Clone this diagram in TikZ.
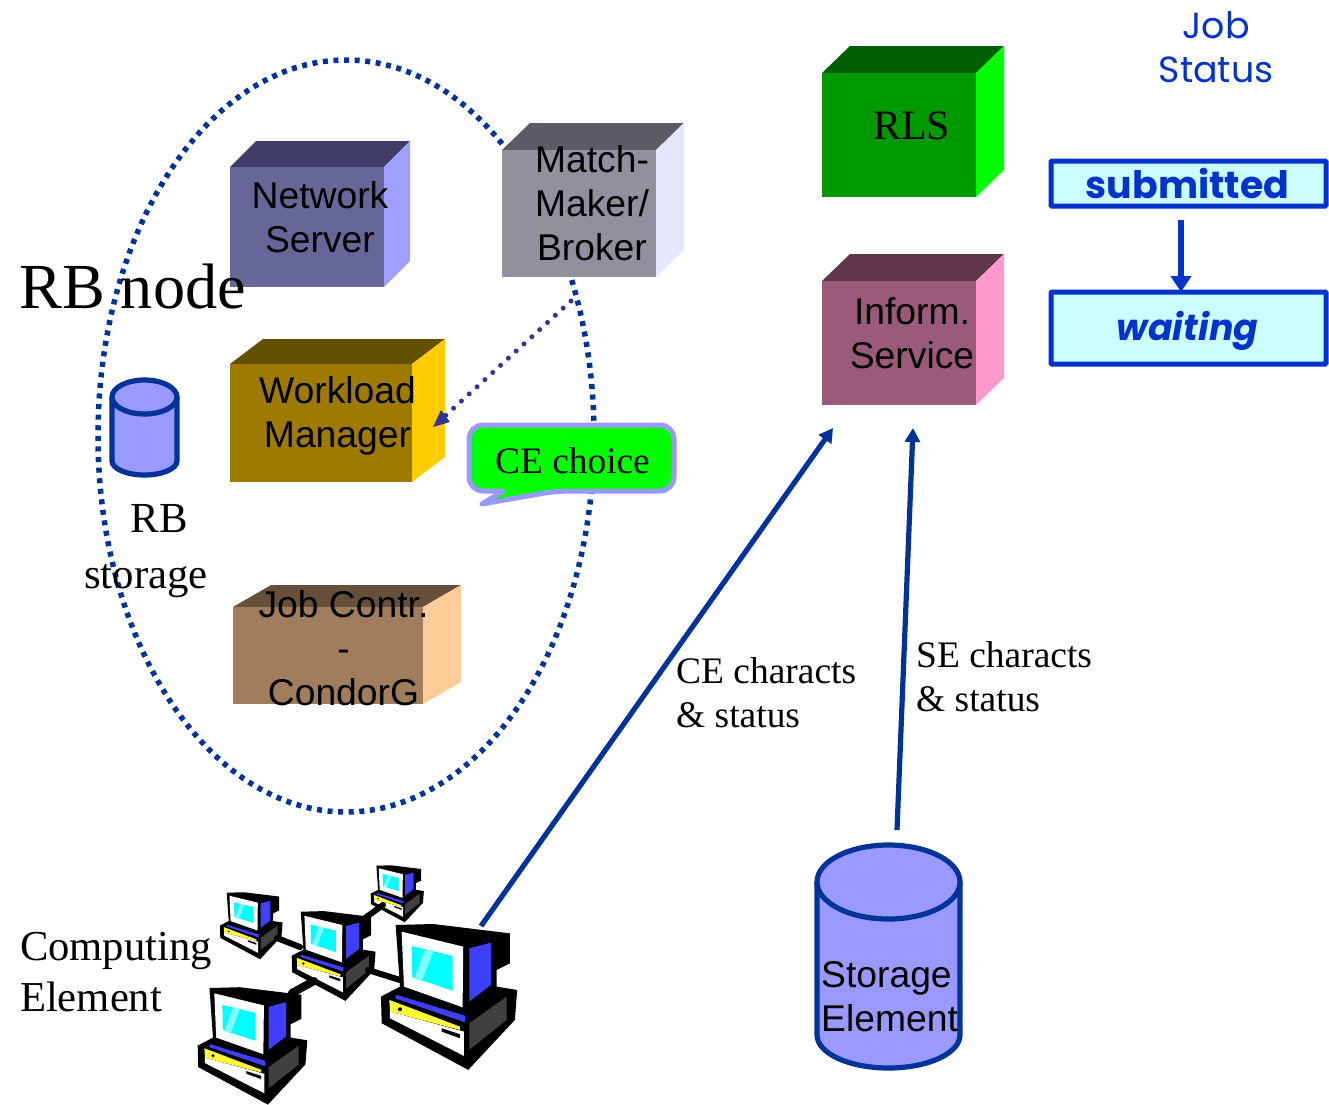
\documentclass[tikz,border=0pt]{standalone}
\usepackage{fontspec}
\setmainfont{Liberation Serif}
\newfontfamily\arialfont{Liberation Sans}
\newfontfamily\comicfont{Poppins}
\usetikzlibrary{arrows.meta}
\definecolor{navy}{HTML}{003399}
\definecolor{royal}{HTML}{0033CC}
\definecolor{periw}{HTML}{9999FF}
\definecolor{dotblue}{HTML}{333399}
\definecolor{pale}{HTML}{CCFFFF}
\definecolor{scr}{HTML}{00FFFF}
\definecolor{scrl}{HTML}{80FFFF}
\definecolor{cblue}{HTML}{3F3FFF}
\definecolor{cyel}{HTML}{FFFF33}
\definecolor{cgrey}{HTML}{404040}
\definecolor{nsf}{HTML}{666699}\definecolor{nst}{HTML}{3D3D66}\definecolor{nss}{HTML}{9F9FFF}
\definecolor{mmf}{HTML}{91919E}\definecolor{mmt}{HTML}{5C5C66}\definecolor{mms}{HTML}{E6E6FF}
\definecolor{wmf}{HTML}{9E7B00}\definecolor{wmt}{HTML}{635000}\definecolor{wms}{HTML}{FFCC00}
\definecolor{jcf}{HTML}{A07D5C}\definecolor{jct}{HTML}{66503C}\definecolor{jcs}{HTML}{FFCC99}
\definecolor{rlf}{HTML}{009900}\definecolor{rlt}{HTML}{006000}\definecolor{rls}{HTML}{00FF00}
\definecolor{isf}{HTML}{9A5A7A}\definecolor{ist}{HTML}{5E3648}\definecolor{iss}{HTML}{FF99CC}
\tikzset{
  x=1bp,y=-1bp,
  front/.style={inner sep=0pt,outer sep=0pt,anchor=north west},
  sanslabel/.style={inner sep=0pt,align=center,font=\arialfont\fontsize{37.4}{44}\selectfont},
  seriflabel/.style={inner sep=0pt,align=left,font=\fontsize{37.6}{44}\selectfont},
  biglabel/.style={inner sep=0pt,align=left,font=\fontsize{42.8}{51}\selectfont},
  statusbox/.style={draw=royal,line width=5bp,fill=pale,inner sep=0pt,outer sep=0pt,rounded corners=1bp,anchor=north west},
  flow/.style={draw=navy,line width=5.2bp,-{Triangle[length=14bp,width=15bp]}},
  link/.style={draw=black,line width=6bp,line cap=round},
  cyl/.style={fill=periw,draw=navy,line width=5.2bp},
  computer/.pic={
    \fill[black] (44,0) -- (157,-3) -- (387,25) -- (387,115) -- (347,135) -- (347,185) -- (409,195) -- (402,285) -- (262,435) -- (2,295) -- (0,215) -- (57,185) -- cycle;
    \fill[white] (62,20) -- (247,65) -- (245,247) -- (69,185) -- cycle;
    \fill[scr] (92,63) -- (215,93) -- (215,197) -- (94,157) -- cycle;
    \fill[scrl] (132,73) -- (157,80) -- (122,170) -- (100,160) -- cycle;
    \fill[cblue] (265,70) -- (330,53) -- (330,180) -- (265,230) -- cycle;
    \fill[white] (27,260) -- (249,320) -- (249,393) -- (27,280) -- cycle;
    \fill[cyel] (25,225) -- (237,305) -- (237,315) -- (27,260) -- cycle;
    \fill[cblue] (47,210) -- (252,272) -- (252,292) -- (42,220) -- cycle;
    \fill[cgrey] (265,295) -- (377,215) -- (377,285) -- (265,375) -- cycle;
    \fill[black] (57,253) circle (6);
    \fill[black] (182,310) -- (237,328) -- (237,340) -- (182,320) -- cycle;
  }
}
% name, x0, y0, x1, y1, dx, dy, colour prefix
\newcommand{\cubebox}[8]{%
  \fill[#8t] (#2,#3) -- (#2+#6,#3-#7) -- (#4+#6,#3-#7) -- (#4,#3) -- cycle;
  \fill[#8s] (#4,#3) -- (#4+#6,#3-#7) -- (#4+#6,#5-#7) -- (#4,#5) -- cycle;
  \node[front,fill=#8f,minimum width=#4bp-#2bp,minimum height=#5bp-#3bp] (#1) at (#2,#3) {};
}
\begin{document}
\begin{tikzpicture}
\useasboundingbox (0,0) rectangle (1329,1104);
% RB node boundary
\draw[navy,line width=5.5bp,dash pattern=on 5bp off 5.6bp] (346,436) ellipse [x radius=248,y radius=376];
% cubes
\cubebox{ns}{230}{167}{384}{287}{26}{26}{ns}
\cubebox{mm}{502}{150}{656}{277}{28}{27}{mm}
\cubebox{wm}{230}{364}{412}{482}{33}{25}{wm}
\cubebox{jc}{233}{607}{423}{704}{38}{22}{jc}
\cubebox{rl}{822}{73}{976}{197}{28}{27}{rl}
\cubebox{is}{822}{281}{976}{405}{28}{27}{is}
\node[sanslabel] (nsl) at (320,217) {Network\\Server};
\node[sanslabel] (mml) at (592,203) {Match-\\Maker/\\Broker};
\node[sanslabel] (wml) at (337.5,416) {Workload\\Manager};
\node[sanslabel] (jcl) at (343.5,648) {Job Contr.\\-\\CondorG};
\node[sanslabel] (isl) at (912,333) {Inform.\\Service};
\node[inner sep=0pt,font=\fontsize{42}{50}\selectfont] (rll) at (911.5,126) {RLS};
\node[inner sep=0pt,font=\fontsize{64.5}{70}\selectfont] (rbn) at (132.5,287) {RB node};
% CE choice bubble
\draw[periw,line width=5bp,line join=round,fill=green,rounded corners=14bp] (469,425) -- (674,425) -- (674,491) -- (556,491) [sharp corners] -- (482,504) -- (503,491) [rounded corners=14bp] -- (469,491) -- cycle;
\node[inner sep=0pt,font=\fontsize{37.5}{44}\selectfont] (cec) at (572.5,461) {CE choice};
% dotted arrow
\coordinate (dots) at (571,301);
\coordinate (dote) at (433,427);
\draw[dotblue,line width=5bp,dash pattern=on 0bp off 10.6bp,line cap=round] (dots) -- (dote);
\fill[dotblue] (433,427) -- (441,410) -- (450,422) -- cycle;
% RB storage
\path[cyl] (112,397) -- (112,461) arc[start angle=180,end angle=360,x radius=32.5,y radius=-14] -- (177,397);
\path[cyl] (144.5,397) ellipse [x radius=32.5,y radius=17];
\node[seriflabel,align=center,font=\fontsize{43}{57}\selectfont] (rbs) at (146,551) {\hspace*{27bp}RB\\storage};
% Storage element
\path[cyl] (817,882) -- (817,1035) arc[start angle=180,end angle=360,x radius=71.5,y radius=-33] -- (960,882);
\path[cyl] (888.5,882) ellipse [x radius=71.5,y radius=37];
\node[sanslabel,align=left,anchor=west] (sel) at (821,997) {Storage\\Element};
% computers
\pic[shift={(381,925)},scale=0.333] {computer};
\pic[shift={(197.7,988)},scale=0.268] {computer};
\pic[shift={(291.7,911.7)},scale=0.205] {computer};
\pic[shift={(220,892.7)},scale=0.153] {computer};
\pic[shift={(370.7,865.7)},scale=0.13] {computer};
\coordinate (l1a) at (277,938); \coordinate (l1b) at (300,947);
\coordinate (l2a) at (365,918); \coordinate (l2b) at (383,905);
\coordinate (l3a) at (292,993); \coordinate (l3b) at (314,981);
\coordinate (l4a) at (368,970); \coordinate (l4b) at (400,980);
\draw[link] (l1a) -- (l1b);
\draw[link] (l2a) -- (l2b);
\draw[link,line width=8bp] (l3a) -- (l3b);
\draw[link] (l4a) -- (l4b);
\node[biglabel] (cel) at (116,972) {Computing\\Element};
% flows
\coordinate (cea) at (481,926); \coordinate (ceb) at (833,428);
\coordinate (sea) at (897,830); \coordinate (seb) at (913,428);
\draw[flow] (cea) -- (ceb);
\draw[flow] (sea) -- (seb);
\node[seriflabel,anchor=west] (cet) at (676,693) {CE characts\\\&\ status};
\node[seriflabel,anchor=west] (set) at (916,677) {SE characts\\\&\ status};
% job status
\node[inner sep=0pt,align=center,text=royal,font=\comicfont\fontsize{36.5}{44}\selectfont] (jst) at (1216,47) {Job\\Status};
\node[statusbox,minimum width=275bp,minimum height=45bp] (sub) at (1051,161) {};
\node[inner sep=0pt,font=\comicfont\bfseries\fontsize{38}{40}\selectfont,text=royal] (subl) at (1187.5,183) {submitted};
\node[statusbox,minimum width=275bp,minimum height=72bp] (wai) at (1051,292) {};
\node[inner sep=0pt,font=\comicfont\bfseries\itshape\fontsize{36.5}{40}\selectfont,text=royal] (wail) at (1187.5,331) {waiting};
\draw[draw=royal,line width=6bp,-{Triangle[length=16bp,width=20bp]}] (1181,220) -- (wai.north -| 1181,0);
\end{tikzpicture}
\end{document}
